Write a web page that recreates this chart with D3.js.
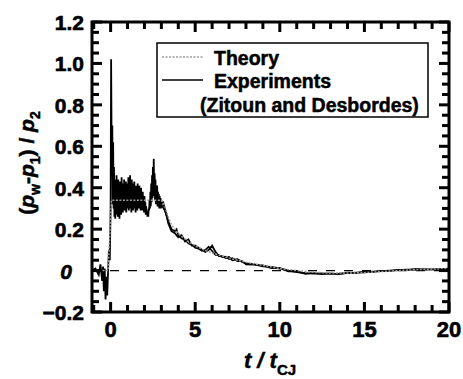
<!DOCTYPE html>
<html>
<head>
<meta charset="utf-8">
<script src="https://cdn.jsdelivr.net/npm/d3@7"></script>
<style>
  body { margin: 0; background: #fff; }
  text { font-family: "Liberation Sans", Arial, sans-serif; font-weight: bold; }
</style>
</head>
<body>
<svg id="chart" width="463" height="379"></svg>
<script>
// tick labels
const xTicks = [0, 5, 10, 15, 20];
const yTicks = [-0.2, 0, 0.2, 0.4, 0.6, 0.8, 1.0, 1.2];
const xMinorTicks = [-1, 1, 2, 3, 4, 6, 7, 8, 9, 11, 12, 13, 14, 16, 17, 18, 19];
const yMinorTicks = [-0.15, -0.1, -0.05, 0.05, 0.1, 0.15, 0.25, 0.3, 0.35, 0.45, 0.5, 0.55, 0.65, 0.7, 0.75, 0.85, 0.9, 0.95, 1.05, 1.1, 1.15];

// theory curve (t / tCJ, normalized wall pressure)
const theoryT = [-1.1, -0.15, 0.05, 1.0, 2.0, 3.0, 3.2, 3.4, 3.6, 4.0, 4.5, 5.0, 5.5, 6.0, 7.0, 8.0, 9.0, 10, 11, 12, 13, 14, 15, 16, 17, 18, 20];
const theoryV = [0, 0, 0.34, 0.34, 0.34, 0.34, 0.31, 0.26, 0.22, 0.18, 0.145, 0.12, 0.1, 0.085, 0.06, 0.04, 0.025, 0.01, 0.0, -0.008, -0.012, -0.012, -0.01, -0.005, 0.0, 0.004, 0.01];

// experiments (Zitoun and Desbordes), first gauge
const expT = [-1.1, -0.9, -0.7, -0.6, -0.5, -0.45, -0.4, -0.35, -0.3, -0.25, -0.2, -0.15, -0.1, -0.05, 0.0, 0.03, 0.07, 0.1, 0.125,
  0.15, 0.175, 0.2, 0.225, 0.25, 0.275, 0.3, 0.325, 0.35, 0.375, 0.4, 0.425, 0.45, 0.475, 0.5, 0.525, 0.55, 0.575, 0.6, 0.625,
  0.65, 0.675, 0.7, 0.725, 0.75, 0.775, 0.8, 0.825, 0.85, 0.875, 0.9, 0.925, 0.95, 0.975, 1.0, 1.025, 1.05, 1.075, 1.1, 1.125,
  1.15, 1.175, 1.2, 1.225, 1.25, 1.275, 1.3, 1.325, 1.35, 1.375, 1.4, 1.425, 1.45, 1.475, 1.5, 1.525, 1.55, 1.575, 1.6, 1.625,
  1.65, 1.675, 1.7, 1.725, 1.75, 1.775, 1.8, 1.825, 1.85, 1.875, 1.9, 1.925, 1.95, 1.975, 2.0, 2.025, 2.05, 2.075, 2.1, 2.125,
  2.15, 2.175, 2.2, 2.225, 2.25, 2.275, 2.3, 2.325, 2.35, 2.375, 2.4, 2.425, 2.45, 2.475, 2.5, 2.525, 2.55, 2.575, 2.6, 2.625,
  2.65, 2.675, 2.7, 2.725, 2.75, 2.775, 2.8, 2.825, 2.85, 2.875, 2.9, 2.925, 2.95, 2.975, 3.0, 3.1, 3.2, 3.3,
  3.4, 3.5, 3.6, 3.8, 4.0, 4.2, 4.4, 4.6, 4.8, 5.0, 5.2, 5.4, 5.6, 5.8, 6.0, 6.2, 6.4, 6.6, 6.8, 7.0,
  7.2, 7.5, 7.8, 8.0, 8.5, 9.0, 9.5, 10, 10.5, 11, 11.5, 12, 12.5, 13, 13.5, 14, 14.5, 15, 15.5, 16,
  16.5, 17, 17.5, 18, 19, 20];
const expV = [0.0, 0.01, -0.02, 0.03, -0.05, 0.02, -0.1, 0.01, -0.14, -0.03, -0.12, 0.0, 0.1, 0.05, 0.3, 1.02, 0.45, 0.7, 0.32,
  0.62, 0.3, 0.5, 0.26, 0.44, 0.25, 0.42, 0.28, 0.46, 0.27, 0.4, 0.26, 0.44, 0.3, 0.38, 0.25, 0.43, 0.29, 0.41, 0.27,
  0.45, 0.3, 0.39, 0.28, 0.42, 0.31, 0.44, 0.29, 0.4, 0.32, 0.43, 0.28, 0.38, 0.3, 0.42, 0.31, 0.45, 0.29, 0.41, 0.33,
  0.46, 0.3, 0.4, 0.28, 0.44, 0.31, 0.42, 0.29, 0.39, 0.32, 0.43, 0.3, 0.4, 0.28, 0.41, 0.31, 0.38, 0.29, 0.42, 0.32,
  0.37, 0.3, 0.41, 0.31, 0.36, 0.29, 0.4, 0.3, 0.35, 0.29, 0.38, 0.3, 0.34, 0.28, 0.36, 0.29, 0.33, 0.27, 0.31, 0.27,
  0.29, 0.26, 0.28, 0.26, 0.3, 0.29, 0.34, 0.3, 0.38, 0.31, 0.42, 0.33, 0.46, 0.35, 0.5, 0.38, 0.54, 0.36, 0.47, 0.34,
  0.44, 0.32, 0.4, 0.33, 0.41, 0.31, 0.38, 0.32, 0.37, 0.3, 0.36, 0.31, 0.35, 0.3, 0.33, 0.33, 0.3, 0.27,
  0.23, 0.21, 0.19, 0.18, 0.16, 0.17, 0.14, 0.15, 0.12, 0.12, 0.11, 0.1, 0.09, 0.1, 0.12, 0.09, 0.07, 0.07, 0.06, 0.065,
  0.05, 0.055, 0.04, 0.035, 0.03, 0.02, 0.018, 0.01, 0.0, -0.008, -0.012, -0.015, -0.014, -0.016, -0.015, -0.012, -0.01, -0.008, -0.005, -0.003,
  0.0, 0.002, 0.004, 0.005, 0.006, 0.008];

// experiments, second gauge (decay part)
const exp2T = [3.0, 3.2, 3.4, 3.6, 3.8, 3.9, 4.0, 4.2, 4.4, 4.6, 4.8, 5.0, 5.2, 5.4, 5.6, 5.8, 6.0, 6.2, 6.4, 6.6,
  6.8, 7.0, 7.2, 7.5, 7.8, 8.0, 8.5, 9.0, 9.5, 10, 10.5, 11, 11.5, 12, 12.5, 13, 13.5, 14, 14.5, 15,
  15.5, 16, 16.5, 17, 17.5, 18, 19, 20];
const exp2V = [0.32, 0.29, 0.24, 0.2, 0.19, 0.2, 0.17, 0.155, 0.15, 0.13, 0.125, 0.11, 0.105, 0.095, 0.1, 0.115, 0.095, 0.075, 0.075, 0.065,
  0.068, 0.055, 0.06, 0.045, 0.045, 0.03, 0.028, 0.025, 0.012, 0.012, -0.004, -0.004, -0.016, -0.012, -0.018, -0.013, -0.018, -0.01, -0.012, -0.006,
  -0.007, -0.001, -0.002, 0.004, 0.003, 0.007, 0.005, 0.01];

const L = 92, R = 449, T = 22, B = 312;
const svg = d3.select('#chart');
const x = d3.scaleLinear().domain([-1.1, 20]).range([L, R]);
const y = d3.scaleLinear().domain([-0.2, 1.2]).range([B, T]);

const plot = svg.append('g');
plot.append('clipPath').attr('id', 'clip')
  .append('rect').attr('x', L).attr('y', T).attr('width', R - L).attr('height', B - T);

// zero reference line
plot.append('line')
  .attr('x1', x(-1.1)).attr('x2', x(20)).attr('y1', y(0)).attr('y2', y(0))
  .attr('stroke', '#000').attr('stroke-width', 1.3).attr('stroke-dasharray', '9,9');

const lineGen = d3.line().x(d => x(d[0])).y(d => y(d[1]));

plot.append('path')
  .datum(expT.map((t, i) => [t, expV[i]]))
  .attr('clip-path', 'url(#clip)')
  .attr('d', lineGen)
  .attr('fill', 'none').attr('stroke', '#000').attr('stroke-width', 1.8);

plot.append('path')
  .datum(exp2T.map((t, i) => [t, exp2V[i]]))
  .attr('clip-path', 'url(#clip)')
  .attr('d', lineGen)
  .attr('fill', 'none').attr('stroke', '#000').attr('stroke-width', 1.6);

plot.append('path')
  .datum(theoryT.map((t, i) => [t, theoryV[i]]))
  .attr('clip-path', 'url(#clip)')
  .attr('d', lineGen)
  .attr('fill', 'none').attr('stroke', '#9a9a9a').attr('stroke-width', 1.5)
  .attr('stroke-dasharray', '2,1.5');

// inward tick marks on all four sides, drawn as small filled rects
const ticks = svg.append('g').attr('fill', '#000');
const xTickData = xTicks.map(v => [v, 10]).concat(xMinorTicks.map(v => [v, 7]));
const yTickData = yTicks.map(v => [v, 10]).concat(yMinorTicks.map(v => [v, 7]));
ticks.selectAll('rect.xb').data(xTickData).join('rect').attr('class', 'xb')
  .attr('x', d => x(d[0]) - 1.5).attr('y', d => B - d[1]).attr('width', 3).attr('height', d => d[1]);
ticks.selectAll('rect.xt').data(xTickData).join('rect').attr('class', 'xt')
  .attr('x', d => x(d[0]) - 1.5).attr('y', T).attr('width', 3).attr('height', d => d[1]);
ticks.selectAll('rect.yl').data(yTickData).join('rect').attr('class', 'yl')
  .attr('x', L).attr('y', d => y(d[0]) - 1.5).attr('width', d => d[1]).attr('height', 3);
ticks.selectAll('rect.yr').data(yTickData).join('rect').attr('class', 'yr')
  .attr('x', d => R - d[1]).attr('y', d => y(d[0]) - 1.5).attr('width', d => d[1]).attr('height', 3);

svg.append('rect').attr('x', L).attr('y', T).attr('width', R - L).attr('height', B - T)
  .attr('fill', 'none').attr('stroke', '#000').attr('stroke-width', 3);

// tick labels
svg.append('g').selectAll('text').data(xTicks).join('text')
  .attr('x', d => x(d)).attr('y', 337).attr('text-anchor', 'middle')
  .attr('font-size', 22).attr('stroke', '#000').attr('stroke-width', 0.6).text(d => d);
svg.append('g').selectAll('text').data(yTicks).join('text')
  .attr('x', d => d === 0 ? 66 : 84)
  .attr('y', d => y(d) + 8)
  .attr('text-anchor', d => d === 0 ? 'middle' : 'end')
  .attr('font-style', d => d === 0 ? 'italic' : 'normal')
  .attr('font-size', 21).attr('stroke', '#000').attr('stroke-width', 0.6)
  .text(d => d === 0 ? '0' : d3.format('.1f')(d));

// axis titles
const xt = svg.append('text').attr('x', 270).attr('y', 368).attr('text-anchor', 'middle')
  .attr('font-size', 22).attr('stroke', '#000').attr('stroke-width', 0.5);
xt.append('tspan').attr('font-style', 'italic').text('t / t');
xt.append('tspan').attr('font-size', 15).attr('dy', 7).text('CJ');

const yt = svg.append('text').attr('transform', 'translate(34,163) rotate(-90)')
  .attr('text-anchor', 'middle').attr('font-size', 21).attr('stroke', '#000').attr('stroke-width', 0.5);
yt.append('tspan').text('(');
yt.append('tspan').attr('font-style', 'italic').text('p');
yt.append('tspan').attr('font-size', 14).attr('dy', 6).text('w');
yt.append('tspan').attr('dy', -6).text('-');
yt.append('tspan').attr('font-style', 'italic').text('p');
yt.append('tspan').attr('font-size', 14).attr('dy', 6).text('1');
yt.append('tspan').attr('dy', -6).text(') / ');
yt.append('tspan').attr('font-style', 'italic').text('p');
yt.append('tspan').attr('font-size', 14).attr('dy', 6).text('2');

// legend
const lg = svg.append('g');
lg.append('rect').attr('x', 157).attr('y', 43).attr('width', 271).attr('height', 74)
  .attr('fill', '#fff').attr('stroke', '#000').attr('stroke-width', 1.5);
lg.append('line').attr('x1', 162).attr('x2', 203).attr('y1', 57).attr('y2', 57)
  .attr('stroke', '#9a9a9a').attr('stroke-width', 1.5).attr('stroke-dasharray', '2,1.5');
lg.append('line').attr('x1', 162).attr('x2', 203).attr('y1', 80).attr('y2', 80)
  .attr('stroke', '#000').attr('stroke-width', 1.6);
lg.selectAll('text.lab').data(['Theory', 'Experiments', '(Zitoun and Desbordes)']).join('text')
  .attr('class', 'lab')
  .attr('x', (d, i) => i === 2 ? 200 : 214)
  .attr('y', (d, i) => [65, 88, 112][i])
  .attr('font-size', 19.5).attr('stroke', '#000').attr('stroke-width', 0.5)
  .text(d => d);
</script>
</body>
</html>
